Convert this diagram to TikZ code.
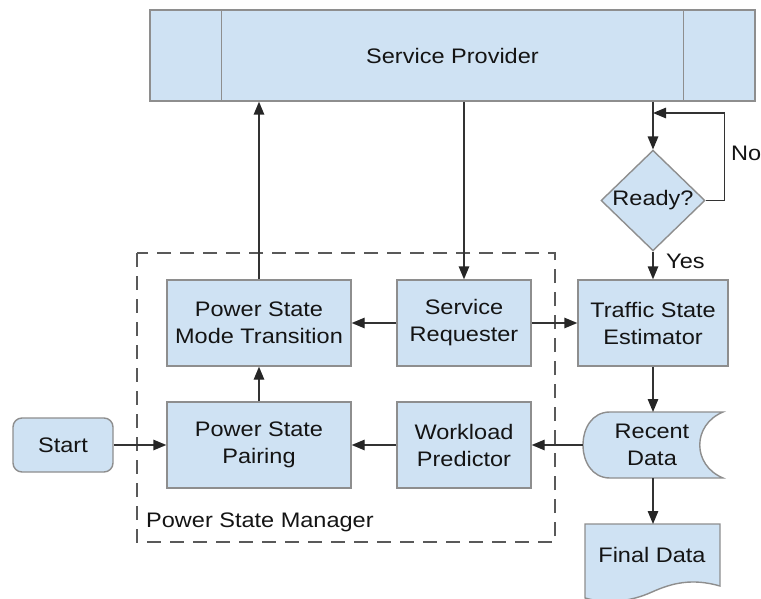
\documentclass[tikz,border=0pt]{standalone}
\usepackage{fontspec}
\setmainfont{Liberation Sans}[FakeStretch=1.12]
\usetikzlibrary{arrows.meta,shapes.geometric,calc}
\definecolor{boxfill}{HTML}{CFE2F3}
\definecolor{boxedge}{HTML}{8E8E8E}
\definecolor{linkcol}{HTML}{333333}
\definecolor{txtcol}{HTML}{141414}
\tikzset{
  every node/.style={text=txtcol,font=\fontsize{21}{27}\selectfont},
  procbox/.style={draw=boxedge,fill=boxfill,line width=1.4pt,inner sep=0pt,align=center},
  shapeline/.style={draw=boxedge,fill=boxfill,line width=1.4pt},
  plain/.style={inner sep=0pt,align=center},
  arr/.style={draw=linkcol,line width=1.4pt,-{Triangle[length=13pt,width=10.5pt,color=black!85]}},
  grouping/.style={draw=black!65,line width=1.4pt,dash pattern=on 14pt off 9pt}
}
\begin{document}
\begin{tikzpicture}[x=1pt,y=-1pt]
\useasboundingbox (0,0) rectangle (761,599);

% service provider bar with its two side panels
\node[procbox,minimum width=605pt,minimum height=91pt] (sp) at (452.5,55.5) {Service Provider};
\draw[boxedge,line width=1.4pt] ([xshift=72pt]sp.north west) -- ([xshift=72pt]sp.south west);
\draw[boxedge,line width=1.4pt] ([xshift=-72pt]sp.north east) -- ([xshift=-72pt]sp.south east);

% power state manager group
\draw[grouping] (137,253) rectangle (555,542);
\node[plain,anchor=west] (psmlabel) at (146,522) {Power State Manager};

% process boxes
\node[procbox,minimum width=184pt,minimum height=86pt] (psmt) at (259,323) {Power State\\Mode Transition};
\node[procbox,minimum width=134pt,minimum height=86pt] (sr) at (464,323) {Service\\Requester};
\node[procbox,minimum width=150pt,minimum height=86pt] (tse) at (653,323) {Traffic State\\Estimator};
\node[procbox,minimum width=184pt,minimum height=86pt] (psp) at (259,445) {Power State\\Pairing};
\node[procbox,minimum width=134pt,minimum height=86pt] (wp) at (464,445) {Workload\\Predictor};
\node[procbox,rounded corners=9pt,minimum width=100pt,minimum height=54pt] (start) at (63,445) {Start};

% decision
\node[shapeline,diamond,inner sep=0pt,minimum width=104pt,minimum height=97pt] (dia) at (653,200.5) {Ready?};

% stored data shape
\draw[shapeline] (610,412) -- (723,412)
  .. controls (692,425) and (692,465) .. (723,478)
  -- (610,478)
  .. controls (574,478) and (574,412) .. (610,412) -- cycle;
\node[plain] (rd) at (652,445) {Recent\\Data};
\coordinate (rdn) at (653,412);
\coordinate (rds) at (653,478);
\coordinate (rdw) at (583,445);

% document shape
\draw[shapeline] (585,524) -- (720,524) -- (720,586)
  .. controls (692,578) and (672,583) .. (652,592)
  .. controls (630,602) and (606,604) .. (585,598) -- cycle;
\node[plain] (fd) at (652,555) {Final Data};
\coordinate (fdn) at (653,524);

% connectors
\draw[arr] (psmt.north) -- (sp.south -| psmt.north);
\draw[arr] (sp.south -| sr.north) -- (sr.north);
\draw[arr] (sp.south -| dia.north) -- (dia.north);
\coordinate (loopin) at (653,113);
\draw[arr] (dia.east) -- ++(19,0) |- (loopin);
\node[plain,anchor=west] (nolabel) at (731,153) {No};
\draw[arr] (dia.south) -- (tse.north);
\node[plain,anchor=west] (yeslabel) at (666,261) {Yes};
\draw[arr] (sr.west) -- (psmt.east);
\draw[arr] (sr.east) -- (tse.west);
\draw[arr] (psp.north) -- (psmt.south);
\draw[arr] (wp.west) -- (psp.east);
\draw[arr] (rdw) -- (wp.east);
\draw[arr] (start.east) -- (psp.west);
\draw[arr] (tse.south) -- (rdn);
\draw[arr] (rds) -- (fdn);
\end{tikzpicture}
\end{document}
